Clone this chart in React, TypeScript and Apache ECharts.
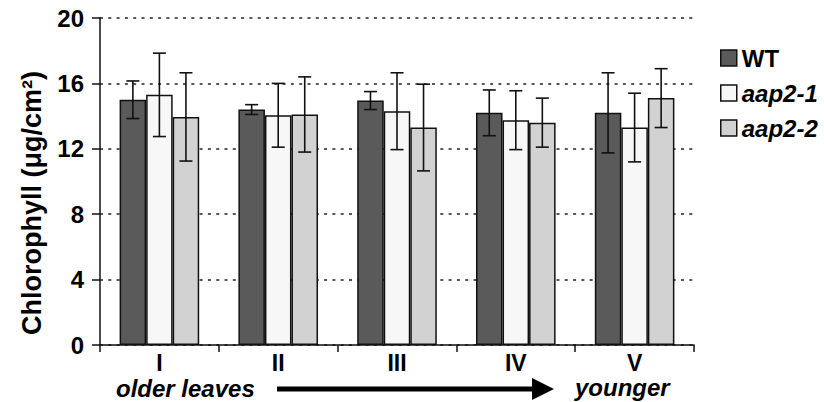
import React, { useEffect, useRef } from "react";
import * as echarts from "echarts";

const categories = ["I", "II", "III", "IV", "V"];
const seriesNames = ["WT", "aap2-1", "aap2-2"];
const wtValues = [15.0, 14.4, 14.95, 14.2, 14.2];
const wtErrors = [1.15, 0.3, 0.55, 1.4, 2.45];
const aap21Values = [15.3, 14.05, 14.3, 13.75, 13.3];
const aap21Errors = [2.55, 1.95, 2.35, 1.8, 2.1];
const aap22Values = [13.95, 14.1, 13.3, 13.6, 15.1];
const aap22Errors = [2.7, 2.3, 2.65, 1.5, 1.8];
const yTicks = { min: 0, max: 20, interval: 4 };

const FONT = "Liberation Sans, Arial, sans-serif";
const colors = ["#5a5a5a", "#f7f7f7", "#d2d2d2"];
const CAT_GAP = 0.33;

export default function App() {
  const ref = useRef<HTMLDivElement>(null);
  useEffect(() => {
    if (!ref.current) return;
    const chart = echarts.init(ref.current, null, { renderer: "svg" });
    const values = [wtValues, aap21Values, aap22Values];
    const errors = [wtErrors, aap21Errors, aap22Errors];

    const barSeries = values.map((vals, i) => ({
      name: seriesNames[i],
      type: "bar",
      data: vals,
      barGap: "0%",
      barCategoryGap: CAT_GAP * 100 + "%",
      itemStyle: { color: colors[i], borderColor: "#111", borderWidth: 1.5 },
      z: 2,
    }));

    const errSeries = values.map((vals, i) => ({
      name: seriesNames[i] + " error",
      type: "custom",
      z: 5,
      data: vals.map((v, k) => [k, v - errors[i][k], v + errors[i][k]]),
      renderItem: (params: any, api: any) => {
        const idx = api.value(0);
        const low = api.value(1);
        const high = api.value(2);
        const center = api.coord([idx, 0])[0];
        const band = api.size([1, 0])[0];
        const bw = (band * (1 - CAT_GAP)) / 3;
        const x = center + (i - 1) * bw;
        const yTop = api.coord([idx, high])[1];
        const yBot = api.coord([idx, low])[1];
        const cap = 6.5;
        const st = { stroke: "#111", lineWidth: 1.6 };
        return {
          type: "group",
          children: [
            { type: "line", shape: { x1: x, y1: yTop, x2: x, y2: yBot }, style: st },
            { type: "line", shape: { x1: x - cap, y1: yTop, x2: x + cap, y2: yTop }, style: st },
            { type: "line", shape: { x1: x - cap, y1: yBot, x2: x + cap, y2: yBot }, style: st },
          ],
        };
      },
    }));

    chart.setOption({
      animation: false,
      grid: { left: 100, right: 130, top: 18, bottom: 57 },
      legend: {
        data: seriesNames,
        orient: "vertical",
        left: 715,
        top: 41,
        icon: "rect",
        itemWidth: 16,
        itemHeight: 16,
        itemGap: 11,
        itemStyle: { borderColor: "#111", borderWidth: 1.5 },
        formatter: (name: string) => (name === "WT" ? `{n|${name}}` : `{i|${name}}`),
        textStyle: {
          color: "#000",
          fontSize: 24,
          fontFamily: FONT,
          fontWeight: "bold",
          rich: {
            n: { fontSize: 24, fontFamily: FONT, fontWeight: "bold", fontStyle: "normal", color: "#000" },
            i: { fontSize: 24, fontFamily: FONT, fontWeight: "bold", fontStyle: "italic", color: "#000" },
          },
        },
      },
      xAxis: {
        type: "category",
        data: categories,
        axisLine: { lineStyle: { color: "#111", width: 1.5 } },
        axisTick: { show: true, length: 7, lineStyle: { color: "#111", width: 1.5 } },
        axisLabel: {
          color: "#000",
          fontSize: 23,
          fontWeight: "bold",
          fontFamily: FONT,
          margin: 10,
          lineHeight: 16,
        },
      },
      yAxis: {
        type: "value",
        min: yTicks.min,
        max: yTicks.max,
        interval: yTicks.interval,
        axisLine: { show: true, lineStyle: { color: "#111", width: 1.5 } },
        axisTick: { show: true, length: 8, lineStyle: { color: "#111", width: 1.5 } },
        axisLabel: { color: "#000", fontSize: 24, fontWeight: "bold", fontFamily: FONT, margin: 16 },
        splitLine: { show: true, lineStyle: { color: "#222", width: 1.6, type: [3, 5.3] } },
      },
      graphic: [
        {
          type: "text",
          x: 32,
          y: 203,
          rotation: Math.PI / 2,
          style: {
            text: "Chlorophyll (μg/cm²)",
            fontSize: 27,
            fontWeight: "bold",
            fontFamily: FONT,
            fill: "#000",
            align: "center",
            verticalAlign: "middle",
          },
        },
        {
          type: "text",
          x: 116,
          y: 388,
          style: {
            text: "older leaves",
            fontSize: 24,
            lineHeight: 20,
            fontWeight: "bold",
            fontStyle: "italic",
            fontFamily: FONT,
            fill: "#000",
            align: "left",
            verticalAlign: "middle",
          },
        },
        {
          type: "text",
          x: 575,
          y: 387,
          style: {
            text: "younger",
            fontSize: 24,
            lineHeight: 20,
            fontWeight: "bold",
            fontStyle: "italic",
            fontFamily: FONT,
            fill: "#000",
            align: "left",
            verticalAlign: "middle",
          },
        },
        {
          type: "line",
          shape: { x1: 277, y1: 389, x2: 536, y2: 389 },
          style: { stroke: "#000", lineWidth: 5 },
        },
        {
          type: "polygon",
          shape: { points: [[532, 378], [554, 389], [532, 400]] },
          style: { fill: "#000" },
        },
      ],
      series: [...barSeries, ...errSeries],
    });
    return () => chart.dispose();
  }, []);
  return (
    <div
      ref={ref}
      style={{ position: "fixed", left: 0, top: 0, width: 824, height: 402, background: "#fff" }}
    />
  );
}
